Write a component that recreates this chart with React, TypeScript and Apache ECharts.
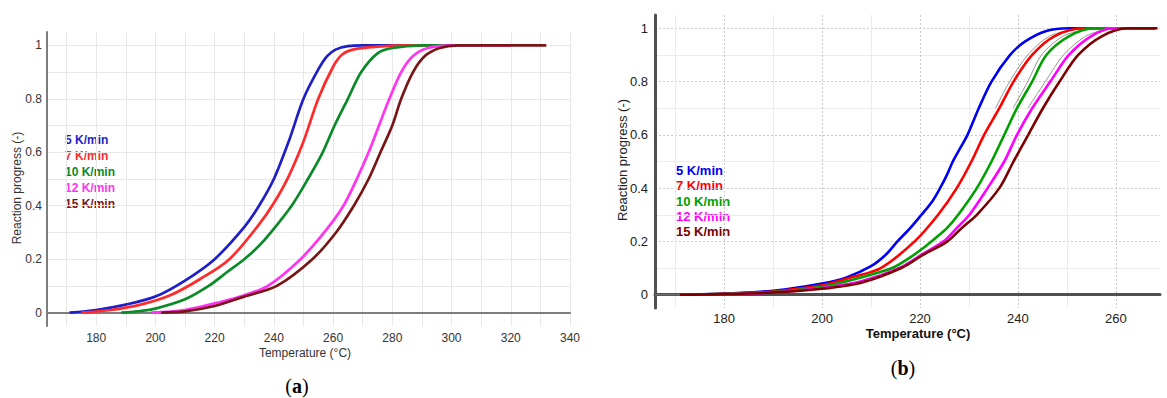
import React, { useEffect, useRef } from "react";
import * as echarts from "echarts";

// ---------- data ----------
const rates = ["5 K/min", "7 K/min", "10 K/min", "12 K/min", "15 K/min"];

// (a) reaction progress vs temperature
const blueA = [[171,0],[180,0.01],[190,0.03],[200,0.06],[210,0.12],[220,0.2],[230,0.32],[235,0.4],[240,0.5],[245,0.64],[250,0.8],[255,0.91],[258,0.96],[261,0.985],[265,0.997],[270,1],[290,1]];
const redA = [[175,0],[185,0.01],[195,0.03],[205,0.065],[215,0.125],[225,0.2],[235,0.33],[240,0.41],[245,0.51],[250,0.64],[255,0.8],[260,0.92],[263,0.965],[267,0.985],[275,0.995],[285,1],[300,1]];
const greenA = [[188.5,0],[195,0.006],[200,0.015],[210,0.05],[218,0.1],[224,0.15],[230,0.2],[235,0.25],[239,0.3],[246,0.4],[251.5,0.5],[256.5,0.6],[260.5,0.7],[265,0.8],[269.5,0.9],[275,0.97],[280,0.99],[290,1],[310,1]];
const magentaA = [[198.5,0],[210,0.01],[222,0.04],[230,0.065],[238,0.1],[249,0.2],[257,0.3],[263.5,0.4],[268,0.5],[272,0.6],[275.5,0.7],[279,0.8],[283,0.9],[287,0.96],[292,0.99],[300,1],[320,1]];
const brownA = [[202,0],[210,0.005],[220,0.025],[230,0.06],[241,0.1],[253,0.2],[261,0.3],[267,0.4],[272,0.5],[276,0.6],[280,0.7],[283,0.8],[287,0.9],[291,0.96],[296,0.99],[302,1],[332,1]];

// (b) measured curves
const blueB = [[171,0],[180,0.004],[190,0.015],[200,0.042],[205,0.065],[210,0.107],[213,0.15],[215.4,0.2],[218,0.25],[220.3,0.3],[222.5,0.35],[224.1,0.4],[225.5,0.45],[226.7,0.5],[228.2,0.55],[229.7,0.6],[232,0.7],[234.6,0.8],[238.4,0.9],[241.4,0.95],[245.8,0.99],[250.4,1],[268,1]];
const redB = [[171,0],[180,0.003],[190,0.012],[200,0.035],[206,0.065],[212,0.1],[218.9,0.2],[223.7,0.3],[227.5,0.4],[230.5,0.5],[233.1,0.6],[236.2,0.7],[239.1,0.8],[242.9,0.9],[247.4,0.97],[253.4,1],[268,1]];
const greenB = [[171,0],[180,0.003],[190,0.01],[200,0.03],[207,0.06],[214.3,0.1],[218,0.14],[221,0.18],[223,0.21],[225.5,0.25],[227.8,0.3],[231.6,0.4],[234.6,0.5],[237.2,0.6],[239.8,0.7],[242.9,0.8],[245.8,0.9],[250.4,0.97],[255.6,1],[268,1]];
const magentaB = [[171,0],[180,0.002],[190,0.008],[200,0.025],[208,0.05],[215.8,0.1],[220.3,0.15],[224.8,0.2],[227.5,0.25],[230.1,0.3],[233.8,0.4],[237.2,0.5],[239.8,0.6],[242.9,0.7],[246.6,0.8],[250.4,0.9],[254.9,0.97],[259.4,1],[268,1]];
const brownB = [[171,0],[180,0.002],[190,0.008],[200,0.022],[208,0.045],[216.2,0.1],[220.7,0.15],[225.6,0.2],[228.5,0.25],[231.6,0.3],[236.2,0.4],[239.1,0.5],[242.1,0.6],[245.1,0.7],[248.5,0.8],[252.3,0.9],[257.1,0.97],[262.4,1],[268.5,1]];
// (b) thin grey model fits, visible where they leave the measured curves
const fitRedB = [[235.4,0.7],[238.3,0.8],[242,0.9],[246.4,0.97],[252,1]];
const fitGreenB = [[239,0.7],[242,0.8],[244.8,0.9],[249.2,0.97],[254.5,1]];
const fitMagentaB = [[242,0.7],[245.6,0.8],[249.3,0.9],[253.8,0.97],[258.5,1]];
const baselineB = [[165.9,0],[171,0]];

// tick labels / grid values
const xLabelsA = [180, 200, 220, 240, 260, 280, 300, 320, 340];
const xGridA = [170, 180, 190, 200, 210, 220, 230, 240, 250, 260, 270, 280, 290, 300, 310, 320, 330, 340];
const yLabels = [0, 0.2, 0.4, 0.6, 0.8, 1];
const yGridA = [0, 0.1, 0.2, 0.3, 0.4, 0.5, 0.6, 0.7, 0.8, 0.9, 1];
const xLabelsB = [180, 200, 220, 240, 260];
const xMinorB = [170, 190, 210, 230, 250];
const yMinorB = [0.1, 0.3, 0.5, 0.7, 0.9];

const curvesA = [blueA, redA, greenA, magentaA, brownA];
const curvesB = [blueB, redB, greenB, magentaB, brownB];
const fitsB = [fitRedB, fitGreenB, fitMagentaB];
const colorsA = ["#1f1fc8", "#ff2b2b", "#0b8a28", "#ff33f0", "#7a1515"];
const colorsB = ["#0000f0", "#ff0000", "#00a000", "#ff00ff", "#7d0000"];

const FONT = "'Liberation Sans', Arial, sans-serif";

export default function App() {
  const ref = useRef<HTMLDivElement>(null);
  useEffect(() => {
    if (!ref.current) return;
    const chart = echarts.init(ref.current, null, { renderer: "svg" });

    const series: any[] = [];
    curvesA.forEach((d, i) =>
      series.push({
        type: "line", name: rates[i] + " (a)", xAxisIndex: 0, yAxisIndex: 0, data: d,
        smooth: 0.3, showSymbol: false, silent: true,
        lineStyle: { color: colorsA[i], width: 2.7 },
      })
    );
    series.push({
      type: "line", name: "baseline", xAxisIndex: 1, yAxisIndex: 1, data: baselineB,
      showSymbol: false, silent: true, lineStyle: { color: "#777", width: 1 },
    });
    fitsB.forEach((d, i) =>
      series.push({
        type: "line", name: "fit " + i, xAxisIndex: 1, yAxisIndex: 1, data: d,
        smooth: 0.3, showSymbol: false, silent: true,
        lineStyle: { color: "#8a8a8a", width: 0.9 },
      })
    );
    curvesB.forEach((d, i) =>
      series.push({
        type: "line", name: rates[i] + " (b)", xAxisIndex: 1, yAxisIndex: 1, data: d,
        smooth: 0.3, showSymbol: false, silent: true,
        lineStyle: { color: colorsB[i], width: 2.6 },
      })
    );

    const graphics: any[] = [];
    rates.forEach((r, i) => {
      graphics.push({
        type: "text", x: 65, y: 140 + i * 15.9,
        style: { text: r, fill: colorsA[i], font: `bold 12px ${FONT}`, textVerticalAlign: "middle" },
      });
      graphics.push({
        type: "text", x: 676, y: 170.7 + i * 15.25,
        style: { text: r, fill: colorsB[i], font: `bold 13px ${FONT}`, textVerticalAlign: "middle" },
      });
    });
    graphics.push(
      { type: "text", x: 305, y: 352.5, style: { text: "Temperature (°C)", fill: "#333", font: `12px ${FONT}`, textAlign: "center", textVerticalAlign: "middle" } },
      { type: "text", x: 17, y: 188, rotation: Math.PI / 2, style: { text: "Reaction progress (-)", fill: "#333", font: `12px ${FONT}`, textAlign: "center", textVerticalAlign: "middle" } },
      { type: "text", x: 918, y: 333, style: { text: "Temperature (°C)", fill: "#111", font: `bold 13px ${FONT}`, textAlign: "center", textVerticalAlign: "middle" } },
      { type: "text", x: 622, y: 160, rotation: Math.PI / 2, style: { text: "Reaction progress (-)", fill: "#222", font: `13px ${FONT}`, textAlign: "center", textVerticalAlign: "middle" } },
      {
        type: "text", x: 297, y: 386, style: {
          text: "{p|(}{b|a}{p|)}", textAlign: "center", textVerticalAlign: "middle",
          rich: { p: { font: "20px 'Liberation Serif', serif", fill: "#000" }, b: { font: "bold 20px 'Liberation Serif', serif", fill: "#000" } },
        },
      },
      {
        type: "text", x: 903, y: 368, style: {
          text: "{p|(}{b|b}{p|)}", textAlign: "center", textVerticalAlign: "middle",
          rich: { p: { font: "20px 'Liberation Serif', serif", fill: "#000" }, b: { font: "bold 20px 'Liberation Serif', serif", fill: "#000" } },
        },
      }
    );

    const option: any = {
      animation: false,
      backgroundColor: "#fff",
      grid: [
        { left: 47, top: 32, width: 523, height: 294 },
        { left: 655, top: 15, width: 505, height: 293 },
      ],
      xAxis: [
        {
          type: "value", gridIndex: 0, min: 163.4, max: 340,
          axisLine: { show: true, lineStyle: { color: "#7d7d7d", width: 2 } },
          axisTick: { show: false, customValues: xGridA },
          axisLabel: { customValues: xLabelsA, color: "#333", fontSize: 12, fontFamily: FONT, margin: 6 },
          splitLine: { show: true, customValues: xGridA, lineStyle: { color: "#e8e8e8", width: 1 } },
        },
        {
          type: "value", gridIndex: 1, min: 165.9, max: 269, position: "bottom",
          axisLine: { show: true, lineStyle: { color: "#505050", width: 3 } },
          axisTick: { show: false, customValues: xLabelsB },
          axisLabel: { customValues: xLabelsB, color: "#222", fontSize: 13, fontFamily: FONT, margin: 4 },
          splitLine: { show: true, customValues: xLabelsB, lineStyle: { color: "#c8c8c8", width: 1, type: [2, 2] } },
        },
        {
          type: "value", gridIndex: 1, min: 165.9, max: 269, position: "bottom",
          axisLine: { show: false }, axisLabel: { show: false },
          axisTick: { show: false, customValues: xMinorB },
          splitLine: { show: true, customValues: xMinorB, lineStyle: { color: "#ececec", width: 1 } },
        },
      ],
      yAxis: [
        {
          type: "value", gridIndex: 0, min: -0.05, max: 1.05,
          axisLine: { show: true, lineStyle: { color: "#7d7d7d", width: 2 } },
          axisTick: { show: false, customValues: yGridA },
          axisLabel: { customValues: yLabels, color: "#333", fontSize: 12, fontFamily: FONT, margin: 5 },
          splitLine: { show: true, customValues: yGridA, lineStyle: { color: "#e8e8e8", width: 1 } },
        },
        {
          type: "value", gridIndex: 1, min: -0.05, max: 1.05, position: "left",
          axisLine: { show: true, lineStyle: { color: "#505050", width: 3 } },
          axisTick: { show: false, customValues: yLabels },
          axisLabel: { customValues: yLabels, color: "#222", fontSize: 13, fontFamily: FONT, margin: 7 },
          splitLine: { show: true, customValues: yLabels, lineStyle: { color: "#c8c8c8", width: 1, type: [2, 2] } },
        },
        {
          type: "value", gridIndex: 1, min: -0.05, max: 1.05, position: "left",
          axisLine: { show: false }, axisLabel: { show: false },
          axisTick: { show: false, customValues: yMinorB },
          splitLine: { show: true, customValues: yMinorB, lineStyle: { color: "#ececec", width: 1 } },
        },
      ],
      series,
      graphic: graphics,
    };
    chart.setOption(option);
    return () => chart.dispose();
  }, []);
  return (
    <div
      ref={ref}
      style={{ position: "absolute", left: 0, top: 0, width: 1167, height: 398, background: "#fff" }}
    />
  );
}
